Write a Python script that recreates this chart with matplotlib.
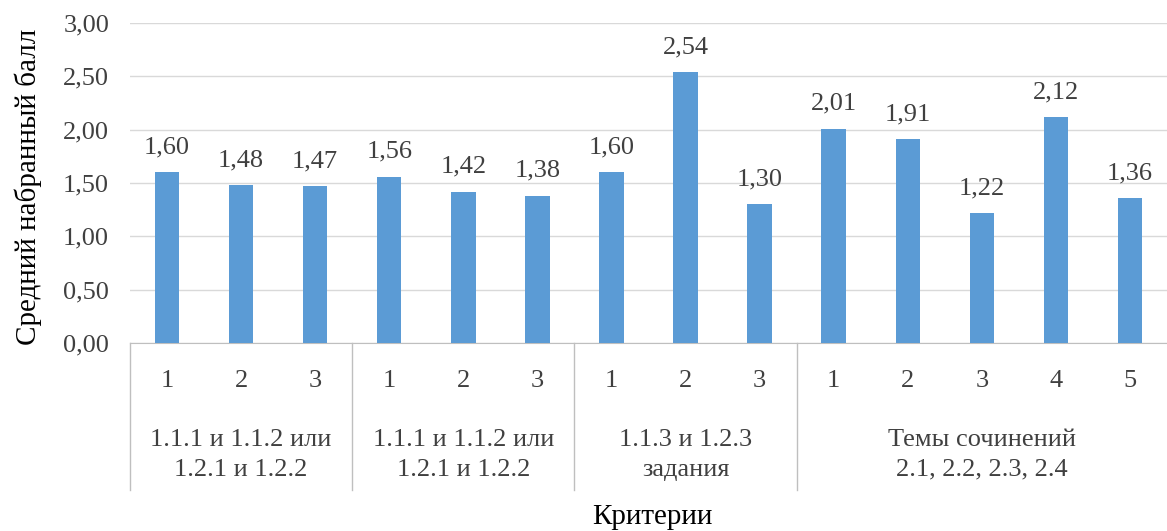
import numpy as np
import matplotlib.pyplot as plt
import matplotlib.transforms as mtransforms

# ── данные ────────────────────────────────────────────────────────────────
criteria = ["1", "2", "3", "1", "2", "3", "1", "2", "3", "1", "2", "3", "4", "5"]
scores = [1.60, 1.48, 1.47, 1.56, 1.42, 1.38, 1.60, 2.54, 1.30, 2.01, 1.91, 1.22, 2.12, 1.36]
groups = ["1.1.1 и 1.1.2 или\n1.2.1 и 1.2.2",
          "1.1.1 и 1.1.2 или\n1.2.1 и 1.2.2",
          "1.1.3 и 1.2.3\nзадания",
          "Темы сочинений\n2.1, 2.2, 2.3, 2.4"]
group_sizes = [3, 3, 3, 5]

plt.rcParams["font.family"] = ["Liberation Serif", "DejaVu Serif"]

fig = plt.figure(figsize=(11.67, 5.31), dpi=100)
ax = fig.add_axes([0.1114, 0.354, 0.8886, 0.6026])

x = np.arange(len(scores))
bars = ax.bar(x, scores, width=0.33, color="#5b9bd5", zorder=3)

for xi, v in zip(x, scores):
    ax.annotate(f"{v:.2f}".replace(".", ","), (xi, v), xytext=(0, 10),
                textcoords="offset points", ha="center", va="bottom",
                fontsize=19, color="#404040")

ax.set_xlim(-0.5, len(scores) - 0.5)
ax.set_ylim(0, 3)
ax.set_yticks(np.arange(0, 3.01, 0.5))
ax.set_yticklabels([f"{t:.2f}".replace(".", ",") for t in np.arange(0, 3.01, 0.5)])
ax.tick_params(axis="y", length=0, pad=15, labelsize=19, labelcolor="#404040")
ax.tick_params(axis="x", length=0, labelbottom=False)
ax.grid(axis="y", color="#d9d9d9", linewidth=1, zorder=0)
for s in ["top", "right", "left"]:
    ax.spines[s].set_visible(False)
ax.spines["bottom"].set_color("#bfbfbf")

# ── многоуровневая ось X ──────────────────────────────────────────────────
trans = mtransforms.blended_transform_factory(ax.transData, ax.transAxes)
for xi, c in zip(x, criteria):
    ax.text(xi, -0.119, c, transform=trans, ha="center", va="center",
            fontsize=19, color="#404040")

start = 0
bounds = [-0.5]
for g, n in zip(groups, group_sizes):
    center = start + (n - 1) / 2
    ax.text(center, -0.35, g, transform=trans, ha="center", va="center",
            fontsize=19, color="#404040", linespacing=1.43)
    start += n
    bounds.append(start - 0.5)

for b in bounds[:-1]:
    ax.plot([b, b], [0, -0.46], transform=trans, color="#bfbfbf",
            linewidth=1, clip_on=False)

fig.text(0.559, 0.027, "Критерии", ha="center", va="center", fontsize=21)
fig.text(0.024, 0.648, "Средний набранный балл", ha="center", va="center",
         rotation=90, fontsize=21)

fig.savefig("out.png", dpi=100)
